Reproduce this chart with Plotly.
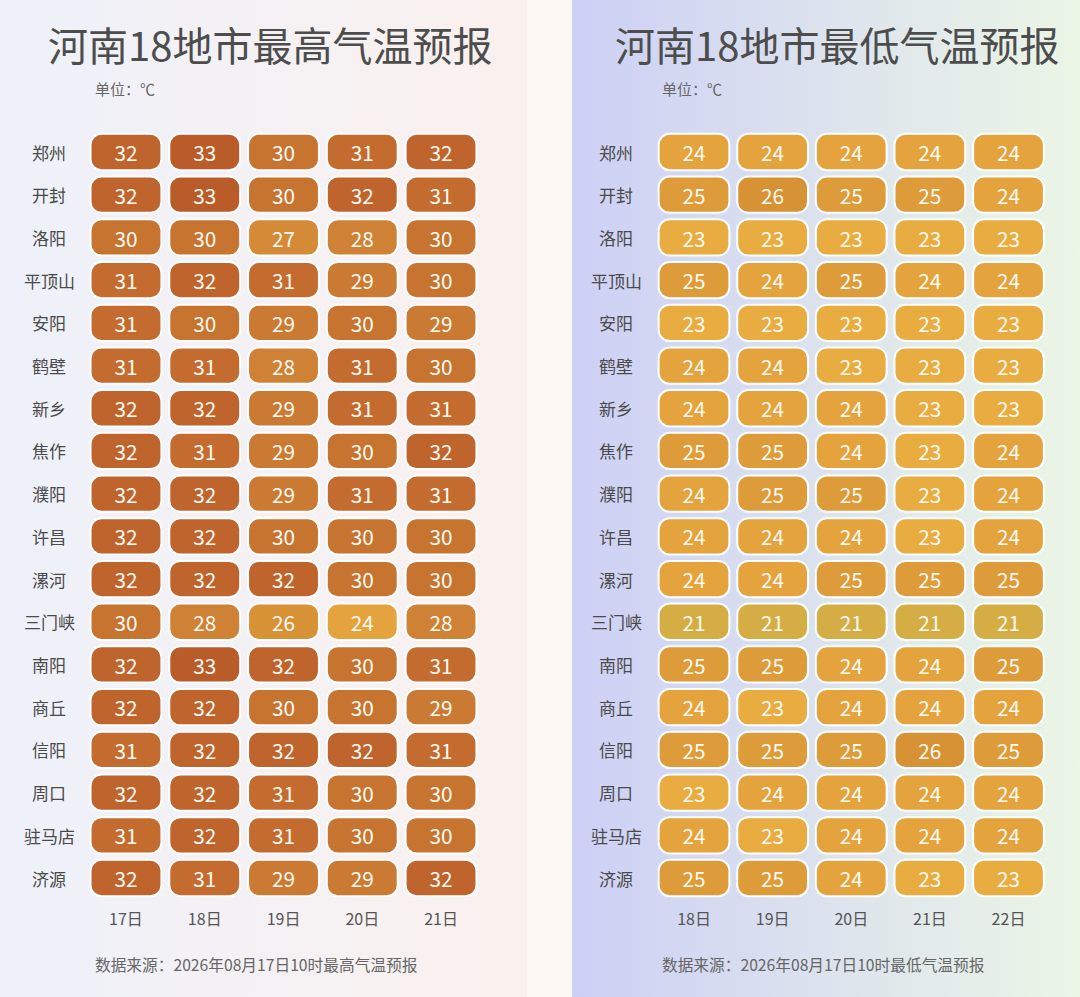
import base64
import plotly.graph_objects as go

# ---- data ----
cities = ["郑州", "开封", "洛阳", "平顶山", "安阳", "鹤壁", "新乡", "焦作", "濮阳",
          "许昌", "漯河", "三门峡", "南阳", "商丘", "信阳", "周口", "驻马店", "济源"]

high_days = ["17日", "18日", "19日", "20日", "21日"]
high_temps = [
    [32, 33, 30, 31, 32],
    [32, 33, 30, 32, 31],
    [30, 30, 27, 28, 30],
    [31, 32, 31, 29, 30],
    [31, 30, 29, 30, 29],
    [31, 31, 28, 31, 30],
    [32, 32, 29, 31, 31],
    [32, 31, 29, 30, 32],
    [32, 32, 29, 31, 31],
    [32, 32, 30, 30, 30],
    [32, 32, 32, 30, 30],
    [30, 28, 26, 24, 28],
    [32, 33, 32, 30, 31],
    [32, 32, 30, 30, 29],
    [31, 32, 32, 32, 31],
    [32, 32, 31, 30, 30],
    [31, 32, 31, 30, 30],
    [32, 31, 29, 29, 32],
]

low_days = ["18日", "19日", "20日", "21日", "22日"]
low_temps = [
    [24, 24, 24, 24, 24],
    [25, 26, 25, 25, 24],
    [23, 23, 23, 23, 23],
    [25, 24, 25, 24, 24],
    [23, 23, 23, 23, 23],
    [24, 24, 23, 23, 23],
    [24, 24, 24, 23, 23],
    [25, 25, 24, 23, 24],
    [24, 25, 25, 23, 24],
    [24, 24, 24, 23, 24],
    [24, 24, 25, 25, 25],
    [21, 21, 21, 21, 21],
    [25, 25, 24, 24, 25],
    [24, 23, 24, 24, 24],
    [25, 25, 25, 26, 25],
    [23, 24, 24, 24, 24],
    [24, 23, 24, 24, 24],
    [25, 25, 24, 23, 23],
]

high_title = "河南18地市最高气温预报"
low_title = "河南18地市最低气温预报"
unit_text = "单位：℃"
high_source = "数据来源：2026年08月17日10时最高气温预报"
low_source = "数据来源：2026年08月17日10时最低气温预报"

# colour ramp (temperature -> cell colour)
scale_temps = [21, 23, 24, 25, 26, 27, 28, 29, 30, 31, 32, 33]
scale_colors = ["#d4ae44", "#e9ac41", "#e4a33c", "#de9b39", "#d89236", "#d48a36",
                "#cf8235", "#cb7a33", "#c87431", "#c46c2f", "#bf642c", "#b95c29"]
tmin, tmax = scale_temps[0], scale_temps[-1]
colorscale = [[(t - tmin) / (tmax - tmin), c] for t, c in zip(scale_temps, scale_colors)]

FONT = "Noto Sans CJK SC"
W, H = 1080, 997


def py(px):
    return 1 - px / H


def px_x(px):
    return px / W


def gradient_svg(c0, c1):
    svg = ('<svg xmlns="http://www.w3.org/2000/svg" width="100" height="100" '
           'viewBox="0 0 100 100" preserveAspectRatio="none"><defs>'
           '<linearGradient id="g" x1="0" y1="0" x2="1" y2="0">'
           f'<stop offset="0" stop-color="{c0}"/><stop offset="1" stop-color="{c1}"/>'
           '</linearGradient></defs><rect width="100" height="100" fill="url(#g)"/></svg>')
    return "data:image/svg+xml;base64," + base64.b64encode(svg.encode()).decode()


fig = go.Figure()

rows = list(range(len(cities)))
panels = [
    ("x", "y", high_temps, high_days),
    ("x2", "y2", low_temps, low_days),
]
for xa, ya, temps, days in panels:
    for j in range(len(days)):
        vals = [r[j] for r in temps]
        fig.add_trace(go.Bar(
            x=[j] * len(rows),
            y=[0.85] * len(rows),
            base=[i - 0.425 for i in rows],
            width=0.9,
            xaxis=xa, yaxis=ya,
            marker=dict(color=vals, colorscale=colorscale, cmin=tmin, cmax=tmax,
                        cornerradius=11, line=dict(color="white", width=2)),
            text=vals,
            textposition="inside",
            insidetextanchor="middle",
            textangle=0,
            constraintext="none",
            textfont=dict(family=FONT, size=24, color="#fffaf2"),
            hoverinfo="skip",
            showlegend=False,
        ))

ydom = [py(899.35), py(130.65)]
axis_common = dict(showgrid=False, zeroline=False, showline=False)
tick_font = dict(family=FONT, size=16, color="#555555")
fig.update_layout(
    width=W, height=H,
    margin=dict(l=0, r=0, t=0, b=0),
    paper_bgcolor="#fdf8f4",
    plot_bgcolor="rgba(0,0,0,0)",
    barmode="overlay",
    xaxis=dict(domain=[px_x(86.6), px_x(480.4)], range=[-0.5, 4.5],
               tickvals=list(range(5)), ticktext=high_days,
               ticks="outside", ticklen=5, tickcolor="rgba(0,0,0,0)",
               tickfont=tick_font, **axis_common),
    yaxis=dict(domain=ydom, range=[17.5, -0.5], showticklabels=False, **axis_common),
    xaxis2=dict(domain=[px_x(654.7), px_x(1047.8)], range=[-0.5, 4.5],
                tickvals=list(range(5)), ticktext=low_days, anchor="y2",
                ticks="outside", ticklen=5, tickcolor="rgba(0,0,0,0)",
                tickfont=tick_font, **axis_common),
    yaxis2=dict(domain=ydom, range=[17.5, -0.5], anchor="x2",
                showticklabels=False, **axis_common),
    images=[
        dict(source=gradient_svg("#eef1fa", "#fbf1ee"), xref="paper", yref="paper",
             x=0, y=1, sizex=527 / W, sizey=1, xanchor="left", yanchor="top",
             sizing="stretch", layer="below"),
        dict(source=gradient_svg("#cdd0f5", "#ebf6e6"), xref="paper", yref="paper",
             x=572 / W, y=1, sizex=(W - 572) / W, sizey=1, xanchor="left", yanchor="top",
             sizing="stretch", layer="below"),
    ],
)

annotations = []
# row labels (city names), placed on each panel's own y axis
for ya, xc in [("y", 49), ("y2", 616)]:
    for i, c in enumerate(cities):
        annotations.append(dict(x=px_x(xc), xref="paper", y=i, yref=ya, text=c,
                                showarrow=False, xanchor="center", yanchor="middle",
                                font=dict(family=FONT, size=17, color="#4a4a4a")))

for title, source, tx, lx in [(high_title, high_source, 270, 93),
                              (low_title, low_source, 837.5, 660)]:
    annotations.append(dict(x=px_x(tx), y=py(44), xref="paper", yref="paper", text=title,
                            showarrow=False, xanchor="center", yanchor="middle",
                            font=dict(family=FONT, size=40, color="#4d4d4d")))
    annotations.append(dict(x=px_x(lx), y=py(89), xref="paper", yref="paper", text=unit_text,
                            showarrow=False, xanchor="left", yanchor="middle",
                            font=dict(family=FONT, size=15, color="#666666")))
    annotations.append(dict(x=px_x(lx), y=py(964), xref="paper", yref="paper", text=source,
                            showarrow=False, xanchor="left", yanchor="middle",
                            font=dict(family=FONT, size=15.7, color="#666666")))

fig.update_layout(annotations=annotations)

# drop the default page margin so the figure fills the window
fig.write_html("out.html", config={"displayModeBar": False},
               post_script="document.body.style.margin='0';document.body.style.overflow='hidden';")
